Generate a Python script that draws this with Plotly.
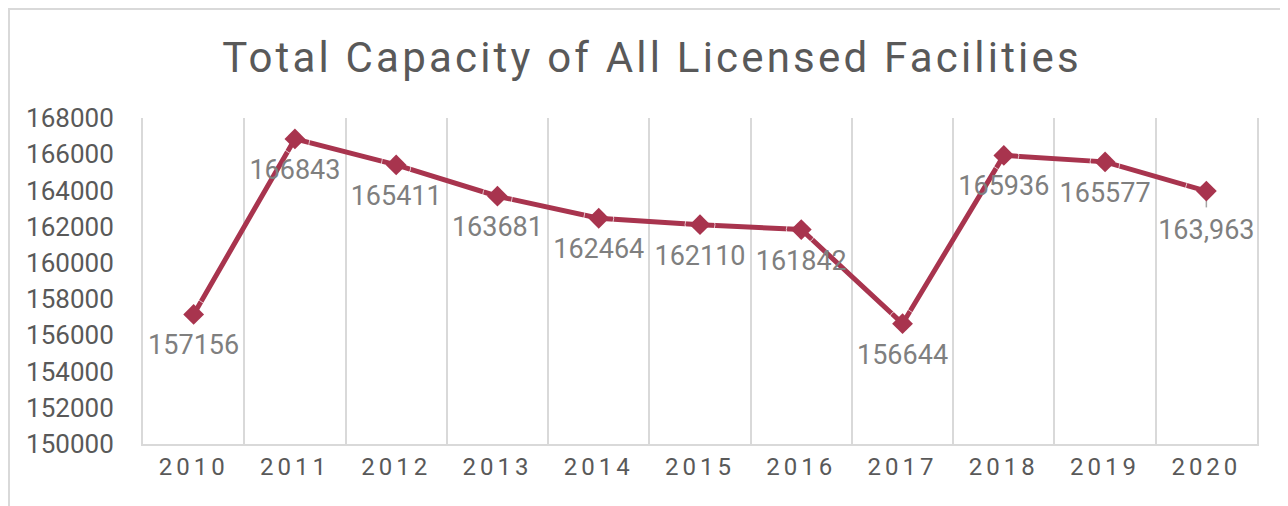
import plotly.graph_objects as go

years = ["2010", "2011", "2012", "2013", "2014", "2015", "2016", "2017", "2018", "2019", "2020"]
capacity = [157156, 166843, 165411, 163681, 162464, 162110, 161842, 156644, 165936, 165577, 163963]
labels = ["157156", "166843", "165411", "163681", "162464", "162110", "161842", "156644", "165936", "165577", "163,963"]
y_ticks = list(range(150000, 168001, 2000))

LINE = "#A8344E"
GRID = "#D9D9D9"
FONT = "Roboto"

W, H = 1288, 506
L, R, T, B = 135, 39, 110, 70
PW, PH = W - L - R, H - T - B

# spacer marker sizes control how far each data label sits below its point
label_gap = [30] * 10 + [42]
# short leader line under the last label (in axis units)
leader = [0] * 10 + [900]

fig = go.Figure()
fig.add_trace(go.Scatter(
    x=years, y=capacity, mode="lines+markers",
    line=dict(color=LINE, width=5),
    marker=dict(symbol="diamond", size=16, color=LINE),
    error_y=dict(type="data", symmetric=False, array=[0] * 11, arrayminus=leader,
                 color="#A6A6A6", thickness=1.5, width=0),
    hoverinfo="x+y", showlegend=False,
))
fig.add_trace(go.Scatter(
    x=years, y=capacity, mode="markers+text",
    text=labels, textposition="bottom center",
    textfont=dict(family=FONT, size=27, color="#7F7F7F"),
    marker=dict(size=label_gap, color="rgba(0,0,0,0)"),
    hoverinfo="skip", showlegend=False, cliponaxis=False,
))

fig.update_layout(
    width=W, height=H,
    margin=dict(l=L, r=R, t=T, b=B, autoexpand=False),
    paper_bgcolor="white", plot_bgcolor="white",
    font=dict(family=FONT, color="#595959"),
    title=dict(
        text='<span style="letter-spacing:3.2px">Total Capacity of All Licensed Facilities</span>',
        x=0.5, xref="container", xanchor="center",
        y=1 - 49 / H, yref="container", yanchor="middle",
        font=dict(family=FONT, size=42, color="#595959"),
    ),
    xaxis=dict(
        type="category", range=[-0.5, 10.5],
        tickvals=years,
        ticktext=['<span style="letter-spacing:4px">%s</span>' % y for y in years],
        tickson="boundaries", showgrid=True, gridcolor=GRID, gridwidth=2,
        showline=True, linecolor=GRID, linewidth=2,
        ticks="outside", ticklen=14, tickcolor="rgba(0,0,0,0)",
        tickfont=dict(family=FONT, size=24, color="#595959"),
        zeroline=False,
    ),
    yaxis=dict(
        range=[150000, 168000], tickvals=y_ticks, ticktext=[str(v) for v in y_ticks],
        showgrid=False, zeroline=False,
        showline=True, mirror=True, linecolor=GRID, linewidth=2,
        ticks="outside", ticklen=22, tickcolor="rgba(0,0,0,0)",
        tickfont=dict(family=FONT, size=26, color="#595959"),
    ),
    shapes=[dict(
        type="rect", xref="paper", yref="paper",
        x0=-L / PW, x1=(PW + R) / PW + 0.1, y0=-B / PH - 0.1, y1=1 + T / PH,
        line=dict(color=GRID, width=4), fillcolor="rgba(0,0,0,0)", layer="below",
    )],
)

fig.write_html("out.html")
